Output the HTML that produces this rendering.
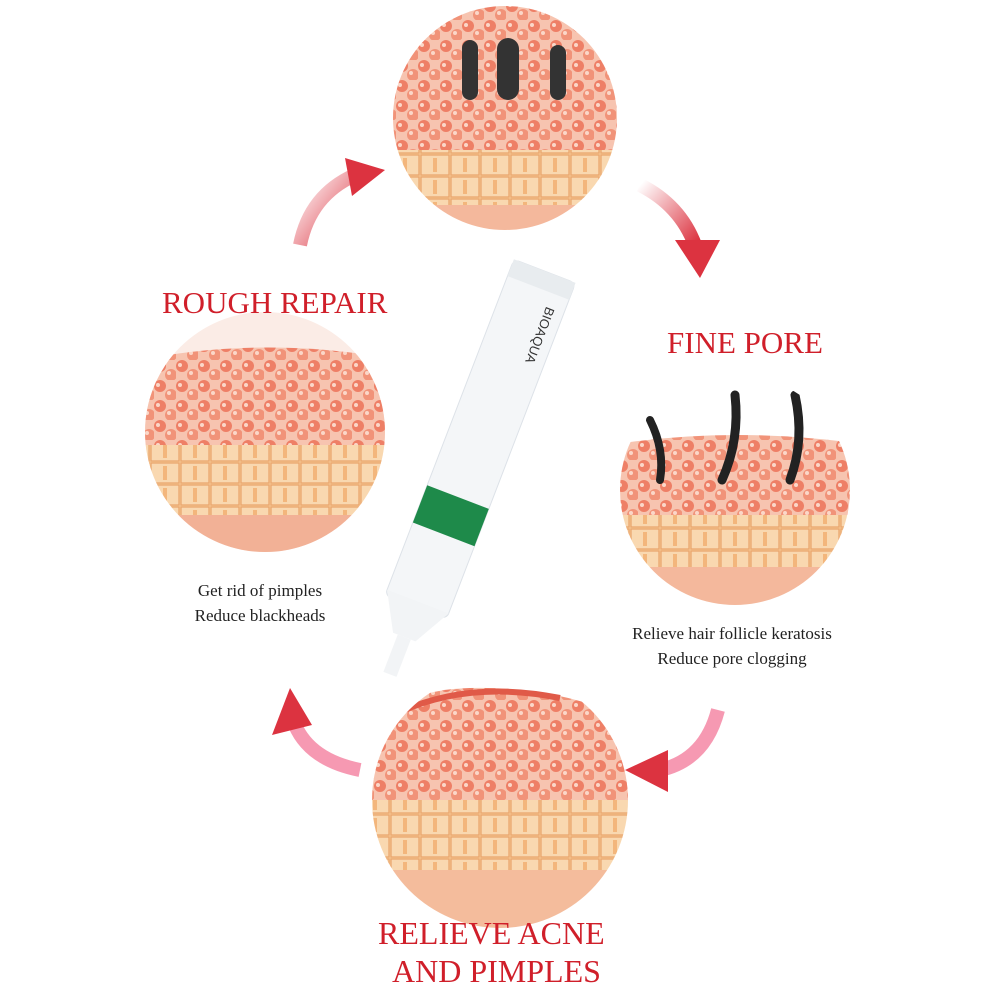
<!DOCTYPE html>
<html><head><meta charset="utf-8">
<style>
html,body{margin:0;padding:0;background:#fff;}
body{width:1001px;height:1001px;position:relative;overflow:hidden;font-family:"Liberation Serif",serif;}
.t{position:absolute;color:#d01f2a;font-size:31px;white-space:nowrap;}
.s{position:absolute;color:#222;font-size:17px;text-align:center;line-height:25px;white-space:nowrap;}
</style></head><body>
<svg width="1001" height="1001" style="position:absolute;left:0;top:0">
<defs>
<pattern id="bub" width="22" height="20" patternUnits="userSpaceOnUse">
<rect width="22" height="20" fill="#f7c4b0"/>
<circle cx="6" cy="6" r="6" fill="#ee7f66"/><circle cx="17" cy="15" r="6" fill="#f19379"/>
<circle cx="4" cy="5" r="2" fill="#fbd7c8"/><circle cx="15" cy="13" r="2" fill="#fbd7c8"/>
</pattern>
<pattern id="cel" width="30" height="22" patternUnits="userSpaceOnUse">
<rect width="30" height="22" fill="#f7cb98"/>
<rect x="1" y="1" width="28" height="20" fill="#f9d8b0" stroke="#e9a36a" stroke-width="1.2"/>
<rect x="13" y="4" width="4" height="14" fill="#f3b67c"/>
</pattern>
<linearGradient id="ag" x1="0" y1="0" x2="1" y2="1"><stop offset="0" stop-color="#fff"/><stop offset="1" stop-color="#dc3340"/></linearGradient>
<clipPath id="c1"><circle cx="505" cy="118" r="112"/></clipPath>
<clipPath id="c2"><circle cx="265" cy="432" r="120"/></clipPath>
<clipPath id="c3"><circle cx="735" cy="490" r="115"/></clipPath>
<clipPath id="c4"><circle cx="500" cy="800" r="128"/></clipPath>
</defs>
<g clip-path="url(#c1)">
<rect x="380" y="0" width="260" height="150" fill="url(#bub)"/>
<rect x="380" y="150" width="260" height="55" fill="url(#cel)"/>
<rect x="380" y="205" width="260" height="40" fill="#f4b89c"/>
<rect x="462" y="40" width="16" height="60" rx="8" fill="#333"/>
<rect x="497" y="38" width="22" height="62" rx="11" fill="#333"/>
<rect x="550" y="45" width="16" height="55" rx="8" fill="#333"/>
</g>
<g clip-path="url(#c2)">
<rect x="140" y="300" width="260" height="260" fill="#fbece6"/>
<path d="M140 360 Q265 335 400 360 L400 445 L140 445Z" fill="url(#bub)"/>
<rect x="140" y="445" width="260" height="70" fill="url(#cel)"/>
<rect x="140" y="515" width="260" height="45" fill="#f2b196"/>
</g>
<g clip-path="url(#c3)">
<rect x="610" y="370" width="260" height="240" fill="#fff"/>
<path d="M610 445 Q735 425 870 445 L870 515 L610 515Z" fill="url(#bub)"/>
<rect x="610" y="515" width="260" height="52" fill="url(#cel)"/>
<rect x="610" y="567" width="260" height="45" fill="#f4b89c"/>
<path d="M650 420 Q665 450 660 480" stroke="#222" stroke-width="8" fill="none" stroke-linecap="round"/>
<path d="M735 395 Q740 440 722 480" stroke="#222" stroke-width="9" fill="none" stroke-linecap="round"/>
<path d="M795 395 Q805 440 790 480" stroke="#222" stroke-width="9" fill="none" stroke-linecap="round"/>
</g>
<g clip-path="url(#c4)">
<rect x="370" y="670" width="260" height="260" fill="#fff"/>
<path d="M370 740 Q390 690 470 688 Q560 686 630 720 L630 800 L370 800Z" fill="url(#bub)"/>
<path d="M400 712 Q470 680 560 698" stroke="#e05a48" stroke-width="6" fill="none"/>
<rect x="370" y="800" width="260" height="70" fill="url(#cel)"/>
<rect x="370" y="870" width="260" height="60" fill="#f4bc9c"/>
</g>
<path d="M300 245 Q310 195 355 175" stroke="url(#ag)" stroke-width="14" fill="none"/>
<polygon points="345,158 385,170 352,196" fill="#dc3340"/>
<path d="M640 185 Q680 205 695 245" stroke="url(#ag)" stroke-width="14" fill="none"/>
<polygon points="675,240 720,240 700,278" fill="#dc3340"/>
<path d="M718 710 Q705 760 660 770" stroke="#e36" stroke-opacity="0.5" stroke-width="14" fill="none"/>
<polygon points="668,750 668,792 625,770" fill="#dc3340"/>
<path d="M360 770 Q310 760 295 725" stroke="#e36" stroke-opacity="0.5" stroke-width="14" fill="none"/>
<polygon points="272,735 312,725 290,688" fill="#dc3340"/>
<g transform="rotate(21 475 450)">
<rect x="443" y="258" width="66" height="360" rx="6" fill="#f4f6f8" stroke="#dde2e8"/>
<rect x="443" y="258" width="66" height="18" fill="#e8ecef"/>
<rect x="443" y="500" width="66" height="40" fill="#1e8a4a"/>
<path d="M443 612 L509 612 L488 650 L464 650Z" fill="#f2f4f6"/>
<rect x="469" y="650" width="14" height="40" fill="#f2f4f6"/>
<text x="490" y="290" font-size="13" fill="#333" transform="rotate(90 490 290)" font-family="Liberation Sans">BIOAQUA</text>
</g>
</svg>
<div class="t" style="left:162px;top:285px">ROUGH REPAIR</div>
<div class="t" style="left:667px;top:325px">FINE PORE</div>
<div class="t" style="left:378px;top:915px;font-size:32px">RELIEVE ACNE</div>
<div class="t" style="left:392px;top:953px;font-size:32px">AND PIMPLES</div>
<div class="s" style="left:160px;top:578px;width:200px">Get rid of pimples<br>Reduce blackheads</div>
<div class="s" style="left:597px;top:621px;width:270px">Relieve hair follicle keratosis<br>Reduce pore clogging</div>
</body></html>
